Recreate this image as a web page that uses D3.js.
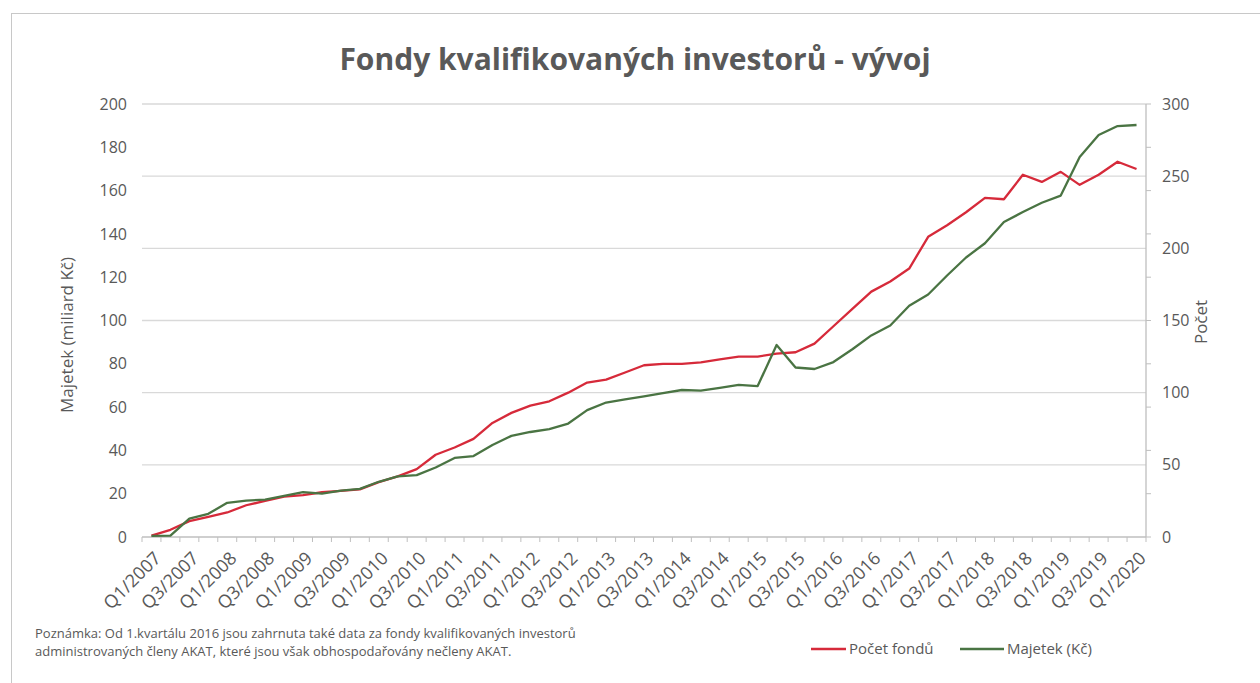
<!DOCTYPE html>
<html>
<head>
<meta charset="utf-8">
<script src="https://cdn.jsdelivr.net/npm/d3@7"></script>
<style>
  body { margin: 0; background: #fff; }
  svg text { font-family: "Open Sans", "Noto Sans", sans-serif; fill: #595959; }
</style>
</head>
<body>
<svg id="chart" width="1260" height="683"></svg>
<script>
//Texts
var title = "Fondy kvalifikovaných investorů - vývoj"
var leftTitle = "Majetek (miliard Kč)"
var rightTitle = "Počet"
var note1 = "Poznámka: Od 1.kvartálu 2016 jsou zahrnuta také data za fondy kvalifikovaných investorů"
var note2 = "administrovaných členy AKAT, které jsou však obhospodařovány nečleny AKAT."
var legendNames = ["Počet fondů", "Majetek (Kč)"]

//data ------------------------------------------------------------
var quarters = [
  "Q1/2007","Q2/2007","Q3/2007","Q4/2007","Q1/2008","Q2/2008","Q3/2008","Q4/2008",
  "Q1/2009","Q2/2009","Q3/2009","Q4/2009","Q1/2010","Q2/2010","Q3/2010","Q4/2010",
  "Q1/2011","Q2/2011","Q3/2011","Q4/2011","Q1/2012","Q2/2012","Q3/2012","Q4/2012",
  "Q1/2013","Q2/2013","Q3/2013","Q4/2013","Q1/2014","Q2/2014","Q3/2014","Q4/2014",
  "Q1/2015","Q2/2015","Q3/2015","Q4/2015","Q1/2016","Q2/2016","Q3/2016","Q4/2016",
  "Q1/2017","Q2/2017","Q3/2017","Q4/2017","Q1/2018","Q2/2018","Q3/2018","Q4/2018",
  "Q1/2019","Q2/2019","Q3/2019","Q4/2019","Q1/2020"]

// pocet fondu (right axis)
var pocetFondu = [1,5,11,14,17,22,25,28,29,31,32,33,38,42,47,57,62,68,79,86,
  91,94,100,107,109,114,119,120,120,121,123,125,125,127,128,134,146,158,170,177,
  186,208,216,225,235,234,251,246,253,244,251,260,255]

// majetek v mld Kc (left axis)
var majetek = [0.5,0.6,8.5,10.7,15.8,16.8,17.3,19.0,20.7,20.0,21.4,22.2,25.5,28.0,28.6,
  32.1,36.5,37.4,42.5,46.7,48.5,49.8,52.4,58.6,62.1,63.6,65.0,66.5,67.9,67.6,
  68.9,70.3,69.7,88.7,78.3,77.6,80.8,86.7,93.1,97.7,106.8,112.0,120.8,129.1,135.7,
  145.5,150.1,154.4,157.7,175.5,185.7,189.8,190.3]

var leftTicks = [0,20,40,60,80,100,120,140,160,180,200]
var rightTicks = [0,50,100,150,200,250,300]

var colors = ["#d62a3a", "#4a7443"]
//-----------------------------------------------------------------

var svg = d3.select("#chart")
var plot = {left: 142, right: 1146, top: 104, bottom: 537}

// outer frame
svg.append("rect")
  .attr("x", 11.5).attr("y", 13.5)
  .attr("width", 1300).attr("height", 700)
  .attr("fill", "none")
  .attr("stroke", "#c8c8c8")

svg.append("text")
  .attr("x", 635).attr("y", 70)
  .attr("text-anchor", "middle")
  .style("font-size", "30px")
  .style("font-weight", "bold")
  .text(title)

var x = d3.scalePoint().domain(quarters).range([plot.left, plot.right]).padding(0.5)
var band = d3.scaleBand().domain(quarters).range([plot.left, plot.right])
var yLeft = d3.scaleLinear().domain([0, 200]).range([plot.bottom, plot.top])
var yRight = d3.scaleLinear().domain([0, 300]).range([plot.bottom, plot.top])

// gridlines (from right axis)
svg.append("g").selectAll("line")
  .data(rightTicks.slice(1))
  .enter().append("line")
  .attr("x1", plot.left).attr("x2", plot.right)
  .attr("y1", function(d){ return yRight(d) }).attr("y2", function(d){ return yRight(d) })
  .attr("stroke", "#d9d9d9").attr("stroke-width", 1.3)

// bottom axis line + ticks
svg.append("line")
  .attr("x1", plot.left).attr("x2", plot.right)
  .attr("y1", plot.bottom).attr("y2", plot.bottom)
  .attr("stroke", "#bfbfbf").attr("stroke-width", 1.3)

var bounds = quarters.map(function(q){ return band(q) }).concat([plot.right])
svg.append("g").selectAll("line")
  .data(bounds)
  .enter().append("line")
  .attr("x1", function(d){ return d }).attr("x2", function(d){ return d })
  .attr("y1", plot.bottom).attr("y2", plot.bottom + 5)
  .attr("stroke", "#bfbfbf")

// right axis line + small ticks
svg.append("line")
  .attr("x1", plot.right).attr("x2", plot.right)
  .attr("y1", plot.top).attr("y2", plot.bottom)
  .attr("stroke", "#bfbfbf").attr("stroke-width", 1.3)

svg.append("g").selectAll("line")
  .data(leftTicks)
  .enter().append("line")
  .attr("x1", plot.right).attr("x2", plot.right + 5)
  .attr("y1", function(d){ return yLeft(d) }).attr("y2", function(d){ return yLeft(d) })
  .attr("stroke", "#bfbfbf")

// tick labels
svg.append("g").selectAll("text")
  .data(leftTicks)
  .enter().append("text")
  .attr("x", 127).attr("y", function(d){ return yLeft(d) })
  .attr("dy", "0.35em")
  .attr("text-anchor", "end")
  .style("font-size", "16px")
  .text(function(d){ return d })

svg.append("g").selectAll("text")
  .data(rightTicks)
  .enter().append("text")
  .attr("x", 1162).attr("y", function(d){ return yRight(d) })
  .attr("dy", "0.35em")
  .style("font-size", "16px")
  .text(function(d){ return d })

svg.append("g").selectAll("text")
  .data(quarters.filter(function(d, i){ return i % 2 == 0 }))
  .enter().append("text")
  .attr("transform", function(d){ return "translate(" + (x(d) + 6) + "," + (plot.bottom + 18) + ") rotate(-45)" })
  .attr("text-anchor", "end")
  .attr("dy", "0.35em")
  .style("font-size", "18px")
  .text(function(d){ return d })

// axis titles
svg.append("text")
  .attr("transform", "translate(73,335) rotate(-90)")
  .attr("text-anchor", "middle")
  .style("font-size", "17px")
  .text(leftTitle)

svg.append("text")
  .attr("transform", "translate(1207,322) rotate(-90)")
  .attr("text-anchor", "middle")
  .style("font-size", "17px")
  .text(rightTitle)

// lines
var lineRight = d3.line()
  .x(function(d, i){ return x(quarters[i]) })
  .y(function(d){ return yRight(d) })
var lineLeft = d3.line()
  .x(function(d, i){ return x(quarters[i]) })
  .y(function(d){ return yLeft(d) })

svg.append("path")
  .datum(pocetFondu)
  .attr("d", lineRight)
  .attr("fill", "none")
  .attr("stroke", colors[0])
  .attr("stroke-width", 2.3)
  .attr("stroke-linejoin", "round")

svg.append("path")
  .datum(majetek)
  .attr("d", lineLeft)
  .attr("fill", "none")
  .attr("stroke", colors[1])
  .attr("stroke-width", 2.3)
  .attr("stroke-linejoin", "round")

// footnote
svg.append("text").attr("x", 35).attr("y", 638).style("font-size", "13px").text(note1)
svg.append("text").attr("x", 35).attr("y", 656).style("font-size", "13px").text(note2)

// legend
var legendX = [811, 960]
var legend = svg.append("g").selectAll("g")
  .data(legendNames)
  .enter().append("g")
  .attr("transform", function(d, i){ return "translate(" + legendX[i] + ",649)" })

legend.append("line")
  .attr("x1", 0).attr("x2", function(d, i){ return i == 0 ? 35 : 44 })
  .attr("stroke", function(d, i){ return colors[i] })
  .attr("stroke-width", 2.3)

legend.append("text")
  .attr("x", function(d, i){ return i == 0 ? 38 : 47 })
  .attr("dy", "0.35em")
  .style("font-size", "15px")
  .text(function(d){ return d })
</script>
</body>
</html>
